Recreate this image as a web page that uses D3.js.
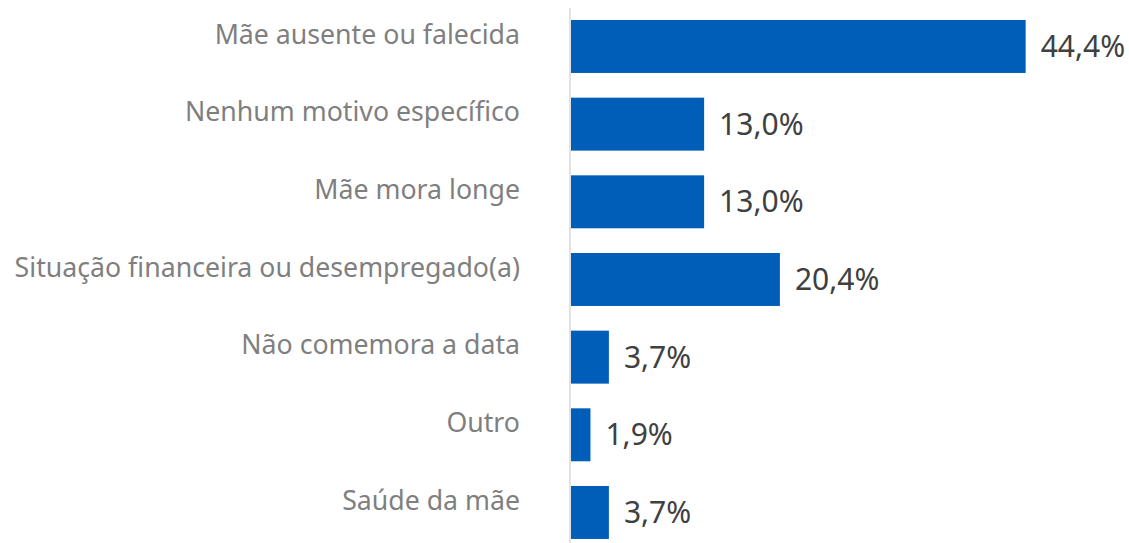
<!DOCTYPE html>
<html><head><meta charset="utf-8">
<script src="https://cdn.jsdelivr.net/npm/d3@7"></script>
<style>body{margin:0;background:#fff;} svg{display:block;}</style>
</head><body>
<svg id="c" width="1129" height="543"></svg>
<script>
const categories = ["Mãe ausente ou falecida","Nenhum motivo específico","Mãe mora longe","Situação financeira ou desempregado(a)","Não comemora a data","Outro","Saúde da mãe"];
const values = [44.4, 13.0, 13.0, 20.4, 3.7, 1.9, 3.7];
const valueLabels = ["44,4%","13,0%","13,0%","20,4%","3,7%","1,9%","3,7%"];

const svg = d3.select("#c");
const x = d3.scaleLinear().domain([0, 50]).range([571, 1083]);
const y = d3.scaleBand().domain(categories).range([7.65, 551.3]).paddingInner(0.318).paddingOuter(0.159);

svg.append("line").attr("x1",570).attr("x2",570).attr("y1",8).attr("y2",543)
  .attr("stroke","#d9d9d9").attr("stroke-width",1.5);

const data = categories.map((c,i)=>({c, v: values[i], l: valueLabels[i]}));

svg.selectAll("rect.bar").data(data).join("rect").attr("class","bar")
  .attr("x", x(0)).attr("y", d=>y(d.c)).attr("width", d=>x(d.v)-x(0)).attr("height", y.bandwidth())
  .attr("fill","#005EB8");

svg.selectAll("text.cat").data(data).join("text").attr("class","cat")
  .attr("x", 520).attr("y", d=>y(d.c)+y.bandwidth()/2 - 12).attr("dy","0.35em")
  .attr("text-anchor","end").attr("font-family","'Noto Sans', 'Open Sans', sans-serif")
  .attr("font-size", 26.7).attr("fill","#7f7f7f").text(d=>d.c);

svg.selectAll("text.val").data(data).join("text").attr("class","val")
  .attr("x", d=>x(d.v)+15).attr("y", d=>y(d.c)+y.bandwidth()/2).attr("dy","0.35em")
  .attr("font-family","'Noto Sans', 'Open Sans', sans-serif")
  .attr("font-size", 30).attr("fill","#404040").text(d=>d.l);
</script>
</body></html>
